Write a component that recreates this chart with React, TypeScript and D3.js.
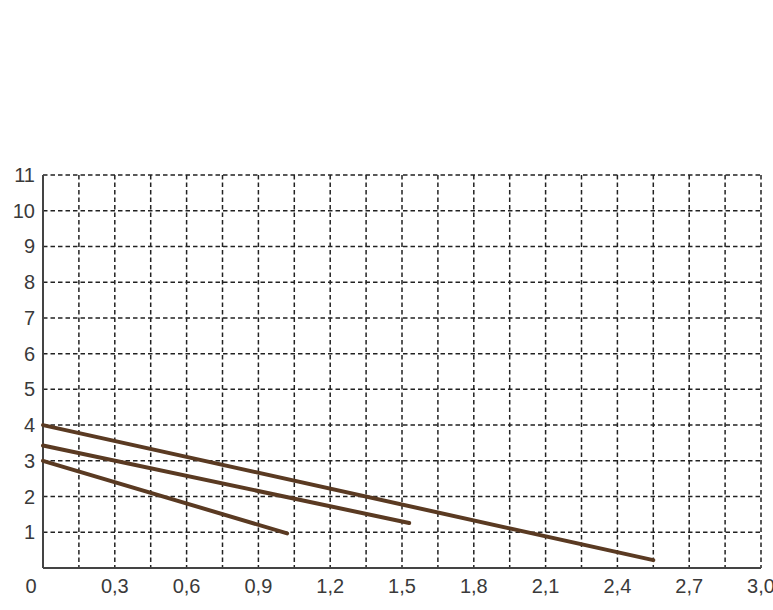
import { useEffect, useRef } from "react";
import * as d3 from "d3";

const xTicks = [0.3, 0.6, 0.9, 1.2, 1.5, 1.8, 2.1, 2.4, 2.7, 3.0];
const xGrid = [0.15, 0.3, 0.45, 0.6, 0.75, 0.9, 1.05, 1.2, 1.35, 1.5, 1.65, 1.8, 1.95, 2.1, 2.25, 2.4, 2.55, 2.7, 2.85, 3.0];
const yTicks = [1, 2, 3, 4, 5, 6, 7, 8, 9, 10, 11];

// each curve: start and end points
const lineA = [
  { x: 0, y: 4.0 },
  { x: 2.55, y: 0.22 },
];
const lineB = [
  { x: 0, y: 3.43 },
  { x: 1.53, y: 1.26 },
];
const lineC = [
  { x: 0, y: 3.0 },
  { x: 1.02, y: 0.97 },
];

const W = 773;
const H = 610;

const App = () => {
  const svgRef = useRef<SVGSVGElement | null>(null);

  useEffect(() => {
    const svg = d3.select(svgRef.current);
    svg.selectAll("*").remove();

    const x = d3.scaleLinear().domain([0, 3]).range([43, 761]);
    const y = d3.scaleLinear().domain([0, 11]).range([568, 175]);

    const font = "'Liberation Sans', Arial, sans-serif";

    // grid
    svg
      .append("g")
      .selectAll("line")
      .data(yTicks)
      .enter()
      .append("line")
      .attr("x1", x(0))
      .attr("x2", x(3))
      .attr("y1", (d) => y(d))
      .attr("y2", (d) => y(d))
      .attr("stroke", "#222")
      .attr("stroke-width", 1.5)
      .attr("stroke-dasharray", "4.5,3");

    svg
      .append("g")
      .selectAll("line")
      .data(xGrid)
      .enter()
      .append("line")
      .attr("x1", (d) => x(d))
      .attr("x2", (d) => x(d))
      .attr("y1", y(11))
      .attr("y2", y(0))
      .attr("stroke", "#222")
      .attr("stroke-width", 1.5)
      .attr("stroke-dasharray", "4.5,3");

    // axes
    svg
      .append("line")
      .attr("x1", x(0))
      .attr("x2", x(0))
      .attr("y1", y(11))
      .attr("y2", y(0))
      .attr("stroke", "#444")
      .attr("stroke-width", 2);
    svg
      .append("line")
      .attr("x1", x(0))
      .attr("x2", x(3))
      .attr("y1", y(0))
      .attr("y2", y(0))
      .attr("stroke", "#444")
      .attr("stroke-width", 2);

    // tick labels
    svg
      .append("g")
      .selectAll("text")
      .data(yTicks)
      .enter()
      .append("text")
      .attr("x", 35)
      .attr("y", (d) => y(d))
      .attr("dy", "0.35em")
      .attr("text-anchor", "end")
      .attr("fill", "#3a3a3a")
      .style("font-family", font)
      .style("font-size", "20px")
      .text((d) => d);

    svg
      .append("g")
      .selectAll("text")
      .data(xTicks)
      .enter()
      .append("text")
      .attr("x", (d) => x(d))
      .attr("y", 593)
      .attr("text-anchor", "middle")
      .attr("fill", "#3a3a3a")
      .style("font-family", font)
      .style("font-size", "20px")
      .text((d) => d.toFixed(1).replace(".", ","));

    svg
      .append("text")
      .attr("x", 31)
      .attr("y", 593)
      .attr("text-anchor", "middle")
      .attr("fill", "#3a3a3a")
      .style("font-family", font)
      .style("font-size", "20px")
      .text("0");

    // curves
    const line = d3
      .line<{ x: number; y: number }>()
      .x((d) => x(d.x))
      .y((d) => y(d.y));

    [lineA, lineB, lineC].forEach((data) => {
      svg
        .append("path")
        .attr("d", line(data))
        .attr("fill", "none")
        .attr("stroke", "#5a3a22")
        .attr("stroke-width", 4)
        .attr("stroke-linecap", "round");
    });
  });

  return (
    <svg
      ref={svgRef}
      width={W}
      height={H}
      style={{ position: "absolute", left: 0, top: 0, background: "#fff" }}
    />
  );
};

export default App;
